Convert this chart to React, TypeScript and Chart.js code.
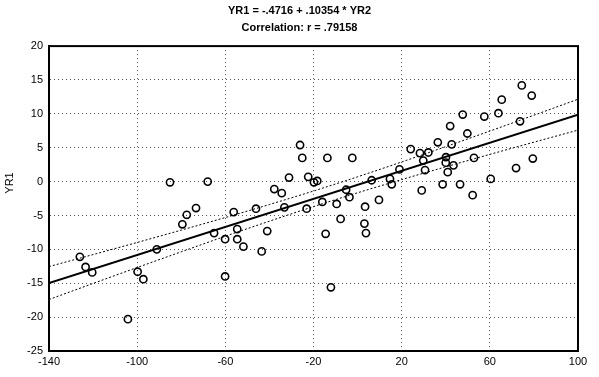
import { useEffect, useRef } from 'react';
import { Chart, registerables } from 'chart.js';

Chart.register(...registerables);

const titleLines = ['YR1 = -.4716 + .10354 * YR2', 'Correlation: r = .79158'];
const yAxisTitle = 'YR1';

const xMin = -140;
const xMax = 100;
const xStep = 40;
const yMin = -25;
const yMax = 20;
const yStep = 5;

const pointX = [
  -104.2, -126.0, -123.4, -120.4, -99.8, -97.2, -91.1, -85.1, -79.5, -77.5,
  -73.3, -68.0, -65.1, -60.1, -60.1, -56.2, -54.6, -54.6, -51.8, -46.1,
  -43.5, -41.0, -37.8, -34.4, -33.2, -31.1, -26.1, -25.1, -23.1, -22.4,
  -19.8, -18.3, -16.0, -14.5, -13.7, -12.1, -9.5, -7.7, -5.2, -3.7,
  -2.4, 3.1, 3.4, 3.8, 6.4, 9.7, 14.7, 15.5, 19.0, 24.1,
  28.3, 29.1, 29.8, 30.6, 32.1, 36.4, 38.6, 40.0, 40.1, 40.9,
  42.0, 42.7, 43.5, 46.5, 47.7, 49.8, 52.2, 52.8, 57.5, 60.4,
  63.9, 65.4, 71.9, 73.7, 74.5, 79.0, 79.5,
];
const pointY = [
  -20.3, -11.1, -12.6, -13.4, -13.3, -14.4, -10.0, -0.1, -6.3, -4.9,
  -3.9, 0.0, -7.6, -8.5, -14.0, -4.5, -7.0, -8.5, -9.6, -4.0,
  -10.3, -7.3, -1.1, -1.7, -3.8, 0.6, 5.4, 3.5, -4.0, 0.7,
  -0.1, 0.1, -3.0, -7.7, 3.5, -15.6, -3.3, -5.5, -1.2, -2.3,
  3.5, -6.2, -3.7, -7.6, 0.2, -2.7, 0.4, -0.4, 1.8, 4.8,
  4.2, -1.3, 3.1, 1.7, 4.3, 5.8, -0.4, 2.8, 3.6, 1.4,
  8.2, 5.5, 2.4, -0.4, 9.9, 7.1, -2.0, 3.5, 9.6, 0.4,
  10.1, 12.1, 2.0, 8.9, 14.2, 12.7, 3.4,
];

const fitX = [-140, 100];
const fitY = [-14.97, 9.88];

const bandX = [-140, -120, -100, -80, -60, -40, -20, 0, 20, 40, 60, 80, 100];
const bandUpper = [-12.54, -10.77, -8.98, -7.16, -5.30, -3.38, -1.39, 0.71, 2.90, 5.16, 7.46, 9.80, 12.16];
const bandLower = [-17.40, -15.03, -12.68, -10.36, -8.06, -5.84, -3.69, -1.65, 0.30, 2.18, 4.02, 5.82, 7.60];

const FONT = "'Liberation Sans', Arial, sans-serif";

const framePlugin = {
  id: 'frame',
  afterDraw(chart: any) {
    const { ctx, chartArea } = chart;
    ctx.save();
    ctx.strokeStyle = '#000';
    ctx.lineWidth = 2;
    ctx.strokeRect(chartArea.left, chartArea.top, chartArea.right - chartArea.left, chartArea.bottom - chartArea.top);
    ctx.restore();
  },
};

const yTitlePlugin = {
  id: 'yTitle',
  afterDraw(chart: any) {
    const { ctx } = chart;
    ctx.save();
    ctx.translate(10, 183);
    ctx.rotate(-Math.PI / 2);
    ctx.fillStyle = '#000';
    ctx.font = `11px ${FONT}`;
    ctx.textAlign = 'center';
    ctx.textBaseline = 'middle';
    ctx.fillText(yAxisTitle, 0, 0);
    ctx.restore();
  },
};

export default function App() {
  const ref = useRef<HTMLCanvasElement | null>(null);

  useEffect(() => {
    if (!ref.current) return;
    const zip = (xs: number[], ys: number[]) => xs.map((x, i) => ({ x, y: ys[i] }));
    const chart = new Chart(ref.current, {
      type: 'scatter',
      data: {
        datasets: [
          {
            data: zip(fitX, fitY),
            showLine: true,
            borderColor: '#000',
            borderWidth: 2,
            pointRadius: 0,
          },
          {
            data: zip(bandX, bandUpper),
            showLine: true,
            borderColor: '#000',
            borderWidth: 1,
            borderDash: [2, 2],
            pointRadius: 0,
            cubicInterpolationMode: 'monotone',
          },
          {
            data: zip(bandX, bandLower),
            showLine: true,
            borderColor: '#000',
            borderWidth: 1,
            borderDash: [2, 2],
            pointRadius: 0,
            cubicInterpolationMode: 'monotone',
          },
          {
            data: zip(pointX, pointY),
            showLine: false,
            pointStyle: 'circle',
            pointRadius: 3.6,
            pointBorderWidth: 1.6,
            borderColor: '#000',
            backgroundColor: 'rgba(0,0,0,0)',
          },
        ],
      } as any,
      options: {
        animation: false,
        responsive: false,
        devicePixelRatio: 1,
        layout: { padding: { left: 0, right: 0, top: 0, bottom: 0 } },
        plugins: {
          legend: { display: false },
          tooltip: { enabled: false },
          title: {
            display: true,
            text: titleLines,
            color: '#000',
            font: { family: FONT, size: 11, lineHeight: 1.55, weight: 'bold' },
            padding: { top: 2, bottom: 10 },
          },
        },
        scales: {
          x: {
            type: 'linear',
            min: xMin,
            max: xMax,
            afterFit: (s: any) => {
              s.height = 26;
            },
            ticks: {
              stepSize: xStep,
              color: '#000',
              font: { family: FONT, size: 11 },
              padding: 4,
              maxRotation: 0,
            },
            grid: { color: '#555', lineWidth: 1, drawTicks: false },
            border: { display: true, color: '#000', width: 2, dash: [1, 3] },
          },
          y: {
            type: 'linear',
            min: yMin,
            max: yMax,
            afterFit: (s: any) => {
              s.width = 49;
            },
            ticks: {
              stepSize: yStep,
              color: '#000',
              font: { family: FONT, size: 11 },
              padding: 6,
            },
            grid: { color: '#555', lineWidth: 1, drawTicks: false },
            border: { display: true, color: '#000', width: 2, dash: [1, 3] },
          },
          yRight: {
            type: 'linear',
            position: 'right',
            min: yMin,
            max: yMax,
            afterFit: (s: any) => {
              s.width = 21;
            },
            ticks: { display: false },
            grid: { display: false, drawTicks: false },
            border: { display: false },
          },
        },
      } as any,
      plugins: [framePlugin, yTitlePlugin],
    });
    return () => chart.destroy();
  }, []);

  return (
    <div style={{ position: 'fixed', left: 0, top: 0, width: 599, height: 377, background: '#fff' }}>
      <canvas ref={ref} width={599} height={377} style={{ display: 'block' }} />
    </div>
  );
}
